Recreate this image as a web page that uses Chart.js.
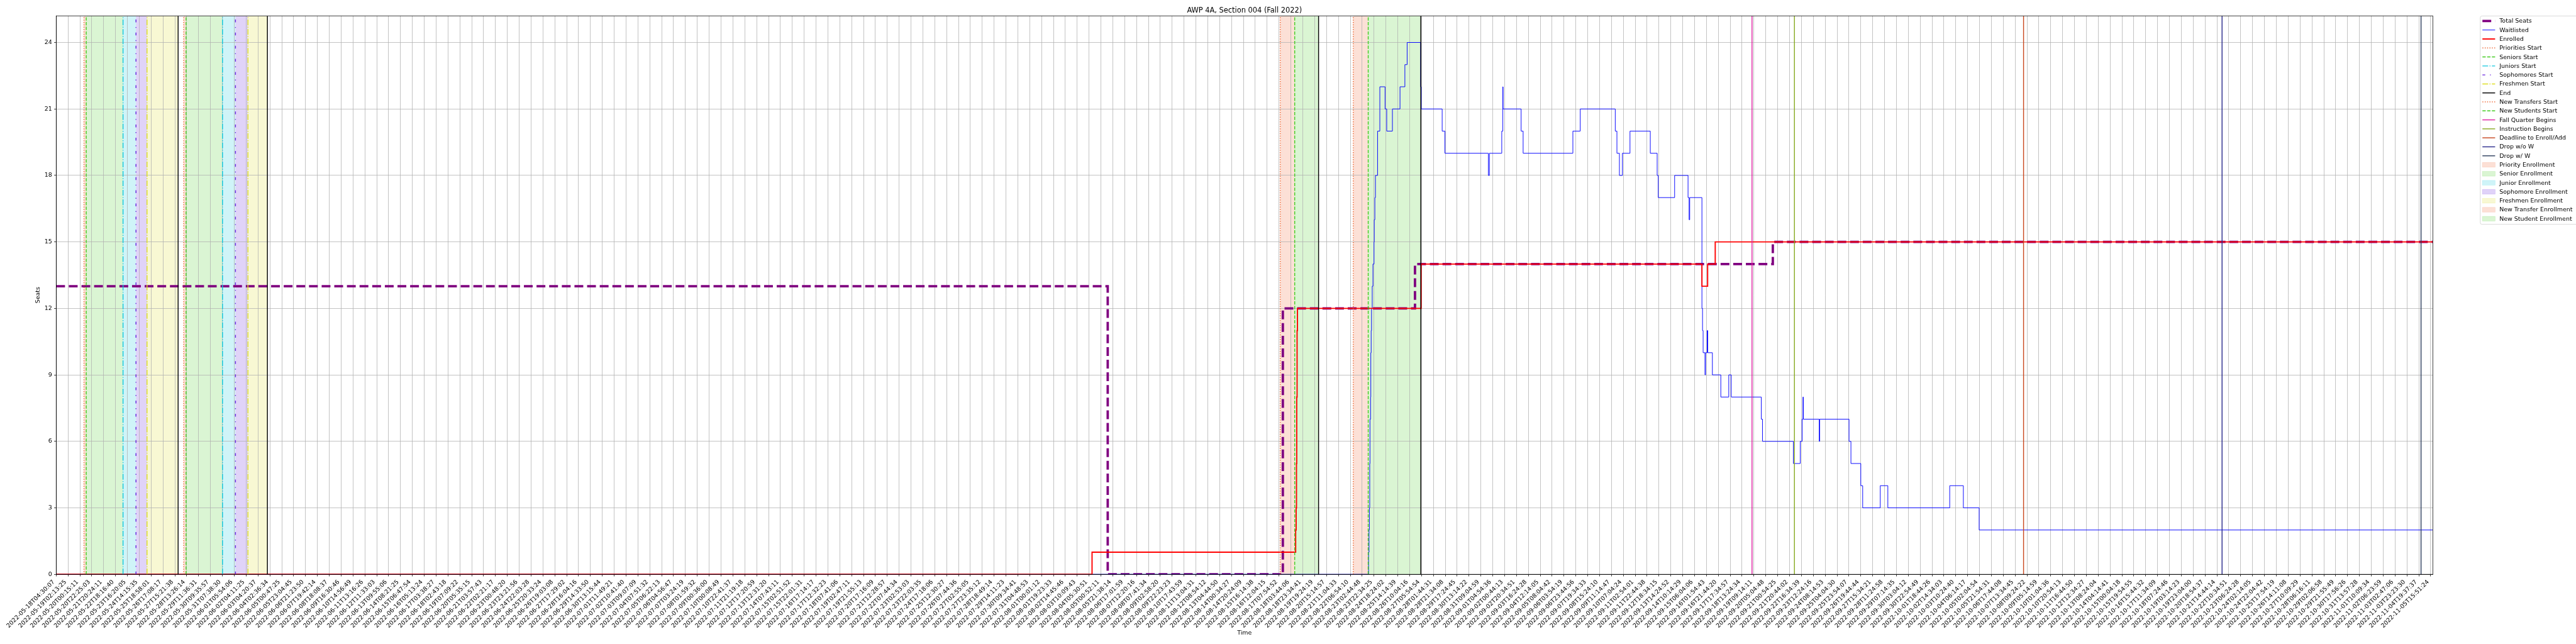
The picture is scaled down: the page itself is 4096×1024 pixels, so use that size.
<!DOCTYPE html>
<html>
<head>
<meta charset="utf-8">
<script src="https://cdn.jsdelivr.net/npm/chart.js@4.4.1/dist/chart.umd.min.js"></script>
<style>
  html, body { margin: 0; padding: 0; background: #fff; }
  canvas { display: block; }
</style>
</head>
<body>
<canvas id="chart" width="4096" height="1024"></canvas>
<script>
// x is measured in tick units (one tick label every N samples)
const tickLabelsStart = [
  "2022-05-18T04:30:07", "2022-05-19T02:13:25", "2022-05-20T00:15:11", "2022-05-20T22:25:03",
  "2022-05-21T20:24:11", "2022-05-22T18:16:40", "2022-05-23T16:20:05", "2022-05-24T14:15:35",
  "2022-05-25T18:58:01", "2022-05-26T17:08:17", "2022-05-27T15:21:38", "2022-05-28T13:26:14",
  "2022-05-29T11:36:31", "2022-05-30T09:35:57", "2022-05-31T07:38:30", "2022-06-01T05:54:06",
  "2022-06-02T04:11:25", "2022-06-03T04:20:37", "2022-06-04T02:36:34", "2022-06-05T00:47:25",
  "2022-06-05T23:04:45", "2022-06-06T21:23:50", "2022-06-07T19:42:14", "2022-06-08T18:08:37",
  "2022-06-09T16:30:46", "2022-06-10T14:56:49", "2022-06-11T13:16:26", "2022-06-12T11:33:03",
  "2022-06-13T09:55:06", "2022-06-14T08:21:25", "2022-06-15T06:47:54", "2022-06-16T05:13:24",
  "2022-06-17T03:38:27", "2022-06-18T02:43:18", "2022-06-19T07:09:22", "2022-06-20T05:35:15",
  "2022-06-21T03:57:43", "2022-06-22T02:21:17", "2022-06-23T00:48:20", "2022-06-23T23:21:56",
  "2022-06-24T22:03:28", "2022-06-25T20:33:24", "2022-06-26T19:03:08", "2022-06-27T17:29:02",
  "2022-06-28T16:04:16", "2022-06-29T14:33:50", "2022-06-30T13:15:44", "2022-07-01T11:49:21",
  "2022-07-02T10:41:40", "2022-07-03T09:07:09", "2022-07-04T07:51:32", "2022-07-05T06:22:13",
  "2022-07-06T04:56:47", "2022-07-07T03:24:19", "2022-07-08T01:59:32", "2022-07-09T00:36:00",
  "2022-07-10T00:08:49", "2022-07-10T22:41:37", "2022-07-11T21:19:18", "2022-07-12T17:20:59",
  "2022-07-13T12:31:20", "2022-07-14T07:43:11", "2022-07-15T02:51:52", "2022-07-15T22:01:31",
  "2022-07-16T17:14:17", "2022-07-17T12:32:23", "2022-07-18T07:41:06", "2022-07-19T02:47:11",
  "2022-07-19T21:55:13", "2022-07-20T17:16:09", "2022-07-21T12:28:57", "2022-07-22T07:44:34",
  "2022-07-23T02:53:03", "2022-07-23T22:03:35", "2022-07-24T17:18:06", "2022-07-25T12:30:27",
  "2022-07-26T07:44:36", "2022-07-27T02:55:05", "2022-07-27T23:35:12", "2022-07-28T18:49:14",
  "2022-07-29T14:11:23", "2022-07-30T09:34:41", "2022-07-31T04:48:53", "2022-08-01T00:01:12",
  "2022-08-01T19:23:33", "2022-08-02T14:45:46", "2022-08-03T10:09:43", "2022-08-04T05:30:51",
  "2022-08-05T00:52:11", "2022-08-05T21:38:14", "2022-08-06T17:01:59", "2022-08-07T12:20:16",
  "2022-08-08T07:41:34", "2022-08-09T02:58:20", "2022-08-09T22:23:23", "2022-08-10T17:43:59"
];
// ticks 96..188: could not be read clearly, estimated from neighbouring labels
const tickLabelsMiddle = [
  "2022-08-11T13:04:31", "2022-08-12T08:54:12", "2022-08-13T04:44:50", "2022-08-14T00:34:27",
  "2022-08-14T20:24:09", "2022-08-15T16:14:38", "2022-08-16T12:04:15", "2022-08-17T07:54:52",
  "2022-08-18T03:44:06", "2022-08-18T23:34:41", "2022-08-19T19:24:19", "2022-08-20T15:14:57",
  "2022-08-21T11:04:33", "2022-08-22T06:54:10", "2022-08-23T02:44:48", "2022-08-23T22:34:25",
  "2022-08-24T18:24:02", "2022-08-25T14:14:39", "2022-08-26T10:04:16", "2022-08-27T05:54:54",
  "2022-08-28T01:44:31", "2022-08-28T21:34:08", "2022-08-29T17:24:45", "2022-08-30T13:14:22",
  "2022-08-31T09:04:59", "2022-09-01T04:54:36", "2022-09-02T00:44:13", "2022-09-02T20:34:51",
  "2022-09-03T16:24:28", "2022-09-04T12:14:05", "2022-09-05T08:04:42", "2022-09-06T03:54:19",
  "2022-09-06T23:44:56", "2022-09-07T19:34:33", "2022-09-08T15:24:10", "2022-09-09T11:14:47",
  "2022-09-10T07:04:24", "2022-09-11T02:54:01", "2022-09-11T22:44:38", "2022-09-12T18:34:15",
  "2022-09-13T14:24:52", "2022-09-14T10:14:29", "2022-09-15T06:04:06", "2022-09-16T01:54:43",
  "2022-09-16T21:44:20", "2022-09-17T17:34:57", "2022-09-18T13:24:34", "2022-09-19T09:14:11",
  "2022-09-20T05:04:48", "2022-09-21T00:54:25", "2022-09-21T20:44:02", "2022-09-22T16:34:39",
  "2022-09-23T12:24:16", "2022-09-24T08:14:53", "2022-09-25T04:04:30", "2022-09-25T23:54:07",
  "2022-09-26T19:44:44", "2022-09-27T15:34:21", "2022-09-28T11:24:58", "2022-09-29T07:14:35",
  "2022-09-30T03:04:12", "2022-09-30T22:54:49", "2022-10-01T18:44:26", "2022-10-02T14:34:03",
  "2022-10-03T10:24:40", "2022-10-04T06:14:17", "2022-10-05T02:04:54", "2022-10-05T21:54:31",
  "2022-10-06T17:44:08", "2022-10-07T13:34:45", "2022-10-08T09:24:22", "2022-10-09T05:14:59",
  "2022-10-10T01:04:36", "2022-10-10T20:54:13", "2022-10-11T16:44:50", "2022-10-12T12:34:27",
  "2022-10-13T08:24:04", "2022-10-14T04:14:41", "2022-10-15T00:04:18", "2022-10-15T19:54:55",
  "2022-10-16T15:44:32", "2022-10-17T11:34:09", "2022-10-18T07:24:46", "2022-10-19T03:14:23",
  "2022-10-19T23:04:00", "2022-10-20T18:54:37", "2022-10-21T14:44:14", "2022-10-22T10:34:51",
  "2022-10-23T06:24:28", "2022-10-24T02:14:05", "2022-10-24T22:04:42", "2022-10-25T17:54:19",
  "2022-10-26T14:11:08"
];
const tickLabelsEnd = [
  "2022-10-27T10:09:29", "2022-10-28T06:16:11", "2022-10-29T02:06:58", "2022-10-29T21:55:49",
  "2022-10-30T17:56:26", "2022-10-31T13:57:28", "2022-11-01T10:09:34", "2022-11-02T06:23:59",
  "2022-11-03T02:47:06", "2022-11-03T23:23:30", "2022-11-04T19:37:37", "2022-11-05T15:51:24"
];
const tickLabels = [...tickLabelsStart, ...tickLabelsMiddle, ...tickLabelsEnd];
const yTicks = [0, 3, 6, 9, 12, 15, 18, 21, 24];
const X_MAX = 200.18;
const Y_MAX = 25.2;

// step series: time (tick units) where the value changes, and the new value
const totalT = [0, 88.57, 103.32, 114.45, 144.59, 200.18];
const totalV = [13, 0, 12, 14, 15, 15];

const enrolledT = [0, 87.25, 104.40, 104.44, 104.47, 104.49, 104.52, 104.55, 114.97, 138.62, 139.10, 139.74, 200.18];
const enrolledV = [0, 1, 2, 3, 5, 8, 11, 12, 14, 13, 14, 15, 15];

const waitT = [0, 110.54, 110.58, 110.61, 110.64, 110.66, 110.71, 110.73, 110.76, 110.79, 110.85, 110.91,
  111.00, 111.02, 111.07, 111.12, 111.30, 111.49, 111.93, 112.07, 112.55, 113.19, 113.60, 113.79,
  114.93, 114.98, 116.74, 116.97, 120.63, 120.72, 121.76, 121.85, 121.87, 123.39, 123.56, 127.75,
  128.37, 131.32, 131.46, 131.67, 131.92, 132.56, 134.27, 134.85, 134.94, 136.32, 137.45, 137.54,
  137.59, 138.62, 138.67, 138.72, 138.88, 138.92, 139.06, 139.11, 139.50, 140.21, 140.88, 141.09,
  143.62, 143.72, 146.32, 146.90, 147.06, 147.13, 147.16, 148.50, 148.54, 151.01, 151.17, 152.00,
  152.16, 153.64, 154.28, 159.49, 160.64, 161.97, 200.18];
const waitV = [0, 1, 2, 3, 5, 7, 8, 10, 11, 12, 13, 14,
  15, 16, 17, 18, 20, 22, 21, 20, 21, 22, 23, 24,
  22, 21, 20, 19, 18, 19, 20, 22, 21, 20, 19, 20,
  21, 20, 19, 18, 19, 20, 19, 18, 17, 18, 17, 16,
  17, 12, 11, 10, 9, 10, 11, 10, 9, 8, 9, 8,
  7, 6, 5, 6, 7, 8, 7, 6, 7, 6, 5, 4,
  3, 4, 3, 4, 3, 2, 2];

// event markers (tick units)
const prioritiesStart = [2.34, 10.74];
const seniorsStart = [2.53, 10.94];
const juniorsStart = [5.63, 14.01];
const sophomoresStart = [6.72, 15.10];
const freshmenStart = [7.65, 16.15];
const endTimes = [10.27, 17.79, 106.33, 114.94];
const newTransfersStart = [103.10, 109.25];
const newStudentsStart = [104.32, 110.51];
const fallQuarterBegins = [142.84];
const instructionBegins = [146.41];
const deadlineEnrollAdd = [165.71];
const dropNoW = [182.43];
const dropW = [199.19];

// enrollment windows
const priorityWindows = [[2.34, 2.53], [10.74, 10.94]];
const seniorWindows = [[2.53, 5.63], [10.94, 14.01]];
const juniorWindows = [[5.63, 6.72], [14.01, 15.10]];
const sophomoreWindows = [[6.72, 7.65], [15.10, 16.15]];
const freshmenWindows = [[7.65, 10.27], [16.15, 17.79]];
const newTransferWindows = [[103.10, 104.32], [109.25, 110.51]];
const newStudentWindows = [[104.32, 106.33], [110.51, 114.94]];

const FONT = "'DejaVu Sans', 'Liberation Sans', sans-serif";
const S = 0.682;
const EW = 1.42; // event line width

const DOT = [EW, 1.65 * EW];
const DASH = [3.7 * EW, 1.6 * EW];
const DASHDOT = [6.4 * EW, 1.6 * EW, EW, 1.6 * EW];
const SOPH = [4.5, 7.5, 1.4, 7.5];

function steps(ts, vs) {
  return ts.map((t, i) => ({ x: t, y: vs[i] }));
}

function vlines(times) {
  const pts = [];
  times.forEach((t, i) => {
    if (i) pts.push({ x: t, y: null });
    pts.push({ x: t, y: 0 }, { x: t, y: Y_MAX });
  });
  return pts;
}

function eventSet(label, times, color, dash) {
  return {
    label, data: vlines(times), borderColor: color, borderWidth: EW, borderDash: dash,
    pointRadius: 0, spanGaps: false, order: 0, fill: false
  };
}

const datasets = [
  { label: "Total Seats", data: steps(totalT, totalV), borderColor: "#800080", borderWidth: 3.8,
    borderDash: [14, 6.1], stepped: true, pointRadius: 0, order: 3, fill: false },
  { label: "Waitlisted", data: steps(waitT, waitV), borderColor: "#0000ff", borderWidth: 0.95,
    stepped: true, pointRadius: 0, order: 2, fill: false },
  { label: "Enrolled", data: steps(enrolledT, enrolledV), borderColor: "#ff0000", borderWidth: 1.9,
    stepped: true, pointRadius: 0, order: 1, fill: false },
  eventSet("Priorities Start", prioritiesStart, "#ee6633", DOT),
  eventSet("Seniors Start", seniorsStart, "#44cc22", DASH),
  eventSet("Juniors Start", juniorsStart, "#11c8dd", DASHDOT),
  eventSet("Sophomores Start", sophomoresStart, "#6622dd", SOPH),
  eventSet("Freshmen Start", freshmenStart, "#dddd22", DASHDOT),
  eventSet("End", endTimes, "#000000", []),
  eventSet("New Transfers Start", newTransfersStart, "#ee6633", DOT),
  eventSet("New Students Start", newStudentsStart, "#44cc22", DASH),
  eventSet("Fall Quarter Begins", fallQuarterBegins, "#dd1fa0", []),
  eventSet("Instruction Begins", instructionBegins, "#88aa22", []),
  eventSet("Deadline to Enroll/Add", deadlineEnrollAdd, "#c8461e", []),
  eventSet("Drop w/o W", dropNoW, "#2b2b8c", []),
  eventSet("Drop w/ W", dropW, "#2e3f5e", [])
];

const windows = [
  { label: "Priority Enrollment", ranges: priorityWindows, color: "rgba(238,102,51,0.2)" },
  { label: "Senior Enrollment", ranges: seniorWindows, color: "rgba(68,204,34,0.2)" },
  { label: "Junior Enrollment", ranges: juniorWindows, color: "rgba(17,200,221,0.2)" },
  { label: "Sophomore Enrollment", ranges: sophomoreWindows, color: "rgba(102,34,221,0.2)" },
  { label: "Freshmen Enrollment", ranges: freshmenWindows, color: "rgba(221,221,34,0.2)" },
  { label: "New Transfer Enrollment", ranges: newTransferWindows, color: "rgba(238,102,51,0.2)" },
  { label: "New Student Enrollment", ranges: newStudentWindows, color: "rgba(68,204,34,0.2)" }
];

const decor = {
  id: "decor",
  beforeDraw(chart) {
    // shaded windows sit under the grid
    const { ctx, chartArea: a, scales: { x } } = chart;
    ctx.save();
    ctx.beginPath();
    ctx.rect(a.left, a.top, a.right - a.left, a.bottom - a.top);
    ctx.clip();
    windows.forEach((w) => {
      ctx.fillStyle = w.color;
      w.ranges.forEach(([t0, t1]) => {
        const x0 = x.getPixelForValue(t0);
        const x1 = x.getPixelForValue(t1);
        ctx.fillRect(x0, a.top, x1 - x0, a.bottom - a.top);
      });
    });
    ctx.restore();
  },
  afterDraw(chart) {
    const { ctx, chartArea: a } = chart;
    ctx.save();
    // frame
    ctx.strokeStyle = "#000";
    ctx.lineWidth = 0.76;
    ctx.strokeRect(a.left, a.top, a.right - a.left, a.bottom - a.top);

    // title and axis labels
    ctx.fillStyle = "#000";
    ctx.font = `11.4px ${FONT}`;
    ctx.textAlign = "center";
    ctx.textBaseline = "alphabetic";
    ctx.fillText("AWP 4A, Section 004 (Fall 2022)", (a.left + a.right) / 2, 19.6);

    ctx.font = `9.48px ${FONT}`;
    ctx.textBaseline = "top";
    ctx.fillText("Time", (a.left + a.right) / 2, 1001.5);
    ctx.save();
    ctx.translate(61, (a.top + a.bottom) / 2);
    ctx.rotate(-Math.PI / 2);
    ctx.textBaseline = "middle";
    ctx.fillText("Seats", 0, 0);
    ctx.restore();

    // legend
    const lx = 5782.7 * S, ly = 37.3 * S, lb = 523 * S;
    ctx.beginPath();
    ctx.roundRect(lx, ly, 4200 - lx, lb - ly, 2.5);
    ctx.fillStyle = "rgba(255,255,255,0.8)";
    ctx.fill();
    ctx.strokeStyle = "#cccccc";
    ctx.lineWidth = 0.7;
    ctx.stroke();

    const h0 = 3947.2, h1 = 3967.4, tx = 3974.2;
    const rowY = (i) => 33.4 + i * 14.29;
    ctx.font = `9.48px ${FONT}`;
    ctx.textAlign = "left";
    ctx.textBaseline = "middle";
    let row = 0;
    chart.data.datasets.forEach((ds) => {
      const y = rowY(row++);
      ctx.save();
      ctx.strokeStyle = ds.borderColor;
      ctx.lineWidth = ds.borderWidth;
      ctx.setLineDash(ds.borderDash || []);
      ctx.beginPath();
      ctx.moveTo(h0, y);
      ctx.lineTo(h1, y);
      ctx.stroke();
      ctx.restore();
      ctx.fillStyle = "#000";
      ctx.fillText(ds.label, tx, y + 0.5);
    });
    windows.forEach((w) => {
      const y = rowY(row++);
      ctx.fillStyle = w.color;
      ctx.fillRect(h0, y - 3.75, h1 - h0, 7.5);
      ctx.strokeStyle = w.color;
      ctx.lineWidth = 0.7;
      ctx.strokeRect(h0, y - 3.75, h1 - h0, 7.5);
      ctx.fillStyle = "#000";
      ctx.fillText(w.label, tx, y + 0.5);
    });
    ctx.restore();
  }
};

new Chart(document.getElementById("chart"), {
  type: "line",
  data: { datasets },
  plugins: [decor],
  options: {
    responsive: false,
    animation: false,
    devicePixelRatio: 1,
    layout: { padding: { top: 25.23, right: 4096 - 3868.3, left: 0, bottom: 0 } },
    plugins: {
      legend: { display: false },
      title: { display: false },
      tooltip: { enabled: false }
    },
    scales: {
      x: {
        type: "linear",
        min: 0,
        max: X_MAX,
        afterBuildTicks: (s) => { s.ticks = tickLabels.map((_, i) => ({ value: i })); },
        afterFit: (s) => { s.height = 1024 - 913.2; },
        grid: { color: "#b0b0b0", lineWidth: 0.76, tickLength: 3.3, tickColor: "#000", tickWidth: 0.76 },
        border: { color: "#000", width: 0.76 },
        ticks: {
          autoSkip: false, maxRotation: 45, minRotation: 45, padding: 3.4, labelOffset: -3.9,
          color: "#000", font: { family: FONT, size: 9.48 },
          callback: (v) => tickLabels[v]
        }
      },
      y: {
        min: 0,
        max: Y_MAX,
        afterBuildTicks: (s) => { s.ticks = yTicks.map((v) => ({ value: v })); },
        afterFit: (s) => { s.width = 89.34; },
        grid: { color: "#b0b0b0", lineWidth: 0.76, tickLength: 3.3, tickColor: "#000", tickWidth: 0.76 },
        border: { color: "#000", width: 0.76 },
        ticks: { padding: 3.2, color: "#000", font: { family: FONT, size: 9.48 }, callback: (v) => String(v) }
      }
    }
  }
});
</script>
</body>
</html>
